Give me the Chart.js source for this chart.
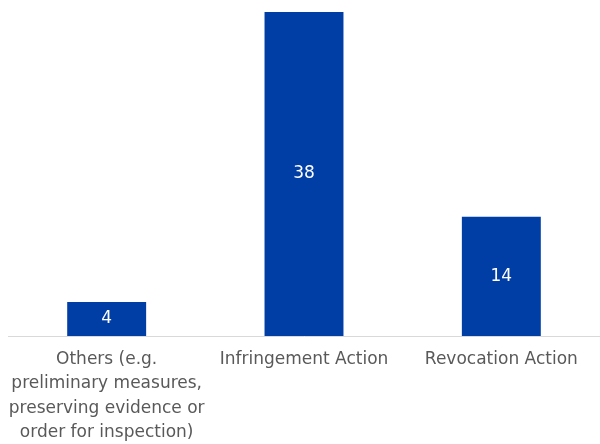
<!DOCTYPE html>
<html>
<head>
<meta charset="utf-8">
<script src="https://cdn.jsdelivr.net/npm/chart.js@4.4.0/dist/chart.umd.min.js"></script>
<style>
  html, body { margin: 0; padding: 0; background: #fff; }
  #wrap { width: 600px; height: 444px; }
</style>
</head>
<body>
<div id="wrap"><canvas id="c"></canvas></div>
<script>
var categories = [
    ["Others (e.g.", "preliminary measures,", "preserving evidence or", "order for inspection)"],
    "Infringement Action",
    "Revocation Action"
];
var counts = [4, 38, 14];

// white value labels in the middle of each bar
var valueLabels = {
    id: "valueLabels",
    afterDatasetsDraw: function(chart) {
        var ctx = chart.ctx;
        var meta = chart.getDatasetMeta(0);
        ctx.save();
        ctx.fillStyle = "#ffffff";
        ctx.font = "17px 'DejaVu Sans'";
        ctx.textAlign = "center";
        ctx.textBaseline = "middle";
        meta.data.forEach(function(bar, i) {
            var mid = (bar.y + bar.base) / 2;
            ctx.fillText(String(counts[i]), bar.x, mid);
        });
        ctx.restore();
    }
};

var ctx = document.getElementById("c").getContext("2d");
var chart = new Chart(ctx, {
    type: "bar",
    data: {
        labels: categories,
        datasets: [{
            data: counts,
            backgroundColor: "#003da5",
            barPercentage: 0.4,
            categoryPercentage: 1
        }]
    },
    options: {
        responsive: true,
        maintainAspectRatio: false,
        animation: false,
        layout: {
            padding: { left: 8, right: -1, top: 12, bottom: -12 }
        },
        plugins: {
            legend: { display: false },
            tooltip: { enabled: false }
        },
        scales: {
            x: {
                grid: { display: false, drawTicks: false },
                border: { display: true, color: "#d9d9d9", width: 1 },
                ticks: {
                    color: "#595959",
                    padding: 11,
                    maxRotation: 0,
                    autoSkip: false,
                    font: { family: "DejaVu Sans", size: 17, lineHeight: 1.44 }
                },
                afterFit: function(scale) {
                    // labels may spill a little past the edges, like the original
                    scale.paddingLeft = 0;
                    scale.paddingRight = 0;
                }
            },
            y: {
                display: false,
                min: 0,
                max: 38
            }
        }
    },
    plugins: [valueLabels]
});
</script>
</body>
</html>
